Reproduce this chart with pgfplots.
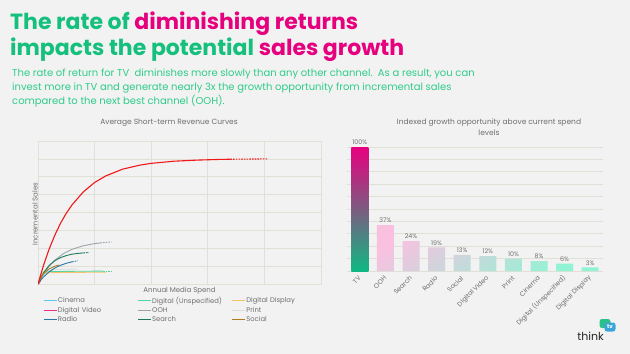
\documentclass[border=0pt]{standalone}
\usepackage{pgfplots}
\pgfplotsset{compat=1.18}
\usepackage{fontspec}
\setmainfont{Poppins}
\definecolor{bg}{HTML}{F2F2F2}
\definecolor{tgreen}{HTML}{14C07C}
\definecolor{tpink}{HTML}{E6007E}
\definecolor{sgreen}{HTML}{2ECC8A}
\definecolor{txtgray}{HTML}{6E6E6E}
\definecolor{gridc}{HTML}{E0E0D6}
\definecolor{cinema}{HTML}{5CC8F0}
\definecolor{digun}{HTML}{4CD6A2}
\definecolor{digdisp}{HTML}{F5C26B}
\definecolor{digvid}{HTML}{EC2D8F}
\definecolor{ooh}{HTML}{9AA4AC}
\definecolor{printc}{HTML}{DCDCDC}
\definecolor{radio}{HTML}{2676A8}
\definecolor{search}{HTML}{1A7A5C}
\definecolor{social}{HTML}{B07A1E}
\definecolor{tvred}{HTML}{F01818}
\definecolor{barpink}{HTML}{F9C0E0}
\definecolor{barmint}{HTML}{90F4D4}
\definecolor{tvtop}{HTML}{E8007F}
\definecolor{tvbot}{HTML}{0FB883}
\definecolor{thinkgreen}{HTML}{2CC08A}
\definecolor{thinkblue}{HTML}{3AA6D8}
\begin{document}
\begin{tikzpicture}
\useasboundingbox (0,0) rectangle (630bp,-354bp);
\fill[bg] (0,0) rectangle (630bp,-354bp);
% Title
\node[anchor=base west, inner sep=0, font=\fontsize{22bp}{26bp}\selectfont\bfseries, text=tgreen] at (10bp,-29bp) {The rate of \textcolor{tpink}{diminishing returns}};
\node[anchor=base west, inner sep=0, font=\fontsize{22bp}{26bp}\selectfont\bfseries, text=tgreen] at (10bp,-55bp) {impacts the potential \textcolor{tpink}{sales growth}};
% Subtitle
\node[anchor=base west, inner sep=0, font=\fontsize{10bp}{14bp}\selectfont, text=sgreen] at (12bp,-76bp) {The rate of return for TV\ \ diminishes more slowly than any other channel.\ \ As a result, you can};
\node[anchor=base west, inner sep=0, font=\fontsize{10bp}{14bp}\selectfont, text=sgreen] at (12bp,-90bp) {invest more in TV and generate nearly 3x the growth opportunity from incremental sales};
\node[anchor=base west, inner sep=0, font=\fontsize{10bp}{14bp}\selectfont, text=sgreen] at (12bp,-104bp) {compared to the next best channel (OOH).};

% ---------------- Left chart ----------------
\begin{axis}[
  at={(38bp,-284bp)}, anchor=south west,
  scale only axis, width=283bp, height=143bp,
  xmin=0, xmax=5, ymin=0, ymax=8,
  xtick={0,...,5}, ytick={0,...,8},
  xticklabels={}, yticklabels={},
  major tick length=0pt,
  grid=major, grid style={gridc, line width=0.7bp},
  axis line style={gridc, line width=0.7bp},
  title={Average Short-term Revenue Curves},
  title style={at={(axis description cs:0.463,1)}, anchor=south, inner sep=0pt, yshift=8bp, font=\fontsize{7.5bp}{9bp}\selectfont, text=txtgray},
  xlabel={Annual Media Spend},
  every axis x label/.style={at={(axis description cs:0.5,0)}, anchor=north, inner sep=0pt, yshift=-3bp, font=\fontsize{7bp}{8bp}\selectfont, text=txtgray},
  ylabel={Incremental Sales},
  every axis y label/.style={at={(axis description cs:0,0.5)}, rotate=90, anchor=south, inner sep=0pt, xshift=-1.5bp, font=\fontsize{7bp}{8bp}\selectfont, text=txtgray},
  legend columns=3,
  legend cell align=left,
  legend style={at={(0.018,-0.084)}, anchor=north west, draw=none, fill=none, font=\fontsize{6.8bp}{8bp}\selectfont, text=txtgray, inner sep=0pt, row sep=1.5bp, nodes={inner sep=0.5bp, text width=79bp, align=left}},
  legend image code/.code={\draw[#1, line width=1.2bp] (0bp,0bp) -- (13bp,0bp);},
  every axis plot/.append style={line width=0.9bp},
  dend/.style={dash pattern=on 1.6bp off 1.1bp},
]
% Cinema
\addplot[cinema] coordinates {(0,0) (0.05,0.4) (0.1,0.55) (0.15,0.6)};
\addlegendentry{Cinema}
% Digital (Unspecified)
\addplot[digun] coordinates {(0,0) (0.05,0.5) (0.1,0.65) (0.2,0.69) (0.6,0.71) (1.15,0.72)};
\addlegendentry{Digital (Unspecified)}
\addplot[digun, dend, forget plot] coordinates {(1.15,0.72) (1.3,0.72)};
% Digital Display
\addplot[digdisp] coordinates {(0,0) (0.05,0.4) (0.1,0.58) (0.2,0.63) (0.5,0.65) (1.2,0.66)};
\addlegendentry{Digital Display}
% Digital Video
\addplot[digvid, line width=2bp] coordinates {(0,0) (0.02,0.12) (0.04,0.18)};
\addlegendentry{Digital Video}
% OOH
\addplot[ooh] coordinates {(0,0) (0.1,0.57) (0.2,1.01) (0.3,1.34) (0.45,1.70) (0.6,1.94) (0.8,2.14) (1.0,2.26) (1.1,2.30)};
\addlegendentry{OOH}
\addplot[ooh, dend, forget plot] coordinates {(1.1,2.30) (1.2,2.33) (1.3,2.35)};
% Print
\addplot[printc] coordinates {(0,0) (0.05,0.5) (0.1,0.7) (0.2,0.78) (0.4,0.82) (0.7,0.84)};
\addlegendentry{Print}
% Radio
\addplot[radio] coordinates {(0,0) (0.05,0.22) (0.1,0.40) (0.2,0.69) (0.3,0.90) (0.4,1.05) (0.5,1.16) (0.6,1.24)};
\addlegendentry{Radio}
\addplot[radio, dend, forget plot] coordinates {(0.6,1.24) (0.7,1.30)};
% Search
\addplot[search] coordinates {(0,0) (0.05,0.35) (0.1,0.64) (0.2,1.05) (0.3,1.31) (0.4,1.48) (0.5,1.59) (0.6,1.67) (0.7,1.71) (0.8,1.74)};
\addlegendentry{Search}
\addplot[search, dend, forget plot] coordinates {(0.8,1.74) (0.9,1.76)};
% Social
\addplot[social] coordinates {(0,0) (0.05,0.35) (0.1,0.6) (0.2,0.85) (0.3,1.0) (0.37,1.06)};
\addlegendentry{Social}
% TV (red)
\addplot[tvred, line width=1.1bp, forget plot] coordinates {(0,0) (0.1,1.07) (0.2,1.98) (0.3,2.75) (0.4,3.41) (0.5,3.96) (0.6,4.42) (0.8,5.15) (1.0,5.68) (1.2,6.05) (1.5,6.43) (1.8,6.65) (2.0,6.75) (2.4,6.87) (2.8,6.93) (3.2,6.97) (3.4,6.98)};
\addplot[tvred, line width=1.1bp, dend, forget plot] coordinates {(3.4,6.98) (3.7,6.99) (4.05,7.0)};
\end{axis}

% ---------------- Right chart ----------------
\node[align=center, inner sep=0pt, font=\fontsize{7.5bp}{11bp}\selectfont, text=txtgray] at (489bp,-127.5bp) {Indexed growth opportunity above current spend\\levels};
\begin{axis}[
  at={(347bp,-271bp)}, anchor=south west,
  scale only axis, width=256bp, height=124bp,
  xmin=-0.5, xmax=9.5, ymin=0, ymax=100,
  ybar, bar width=17bp,
  xtick={0,...,9},
  xticklabels={TV,OOH,Search,Radio,Social,Digital Video,Print,Cinema,Digital (Unspecified),Digital Display},
  xticklabel style={rotate=45, anchor=east, inner sep=0pt, font=\fontsize{6.5bp}{8bp}\selectfont, text=txtgray},
  xticklabel shift=6bp,
  ytick={0,10,...,100}, yticklabels={},
  ymajorgrids, grid style={gridc, line width=0.7bp},
  major tick length=0pt,
  axis line style={draw=none},
  clip=false,
  /pgf/number format/assume math mode=true,
]
\addplot[draw=none, bar shift=0pt, top color=tvtop, bottom color=tvbot] coordinates {(0,100)};
\addplot[draw=none, bar shift=0pt, top color=barpink, bottom color=barmint, shading angle=35] coordinates {(1,37) (2,24) (3,19) (4,13) (5,12) (6,10) (7,8) (8,6) (9,3)};
\addplot[draw=none, fill=none, bar shift=0pt,
  nodes near coords={\pgfmathprintnumber{\pgfplotspointmeta}\%},
  every node near coord/.append style={font=\fontsize{6.3bp}{7bp}\selectfont, text=txtgray, inner sep=2pt}]
  coordinates {(0,100) (1,37) (2,24) (3,19) (4,13) (5,12) (6,10) (7,8) (8,6) (9,3)};
\end{axis}

% logo
\node[anchor=base east, inner sep=0pt, font=\fontsize{11bp}{12bp}\selectfont, text=black!85] at (604bp,-340bp) {think};
\node[fill=thinkgreen, rounded corners=2.5bp, minimum width=11bp, minimum height=9bp, inner sep=0pt] at (605bp,-323.5bp) {};
\node[fill=thinkblue, rounded corners=2.5bp, minimum width=11bp, minimum height=9bp, inner sep=0pt, font=\fontsize{5.5bp}{6bp}\selectfont\bfseries, text=white] at (610bp,-327bp) {tv};
\end{tikzpicture}
\end{document}
